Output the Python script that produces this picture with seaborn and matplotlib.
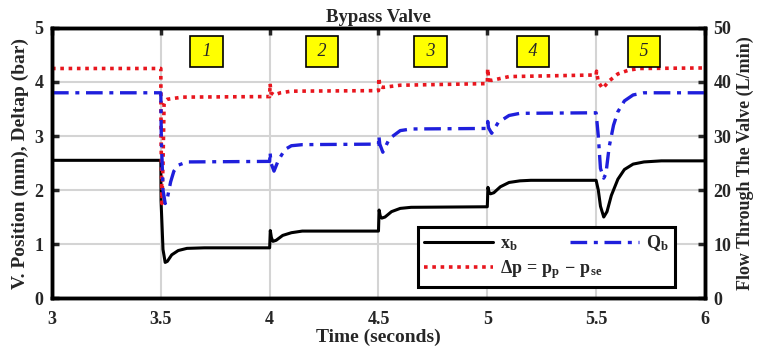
import matplotlib
matplotlib.use("Agg")
import matplotlib.pyplot as plt
import seaborn as sns
import pandas as pd

# ---- data ----
t_xb = [3.0, 3.5, 3.501, 3.51, 3.52, 3.53, 3.55, 3.58, 3.62, 3.7, 4.0, 4.003, 4.008,
        4.015, 4.03, 4.06, 4.1, 4.15, 4.5, 4.503, 4.508, 4.515, 4.53, 4.56, 4.6, 4.65,
        5.0, 5.003, 5.008, 5.015, 5.03, 5.06, 5.1, 5.15, 5.2, 5.5, 5.51, 5.52, 5.535,
        5.55, 5.57, 5.6, 5.63, 5.67, 5.72, 5.8, 6.0]
xb = [2.55, 2.55, 1.8, 0.9, 0.66, 0.68, 0.8, 0.88, 0.92, 0.93, 0.93, 1.25, 1.12,
      1.05, 1.07, 1.16, 1.21, 1.24, 1.24, 1.63, 1.52, 1.48, 1.5, 1.6, 1.66, 1.68,
      1.69, 2.05, 1.96, 1.93, 1.95, 2.06, 2.14, 2.17, 2.18, 2.18, 2.0, 1.7, 1.5,
      1.6, 1.9, 2.2, 2.38, 2.48, 2.52, 2.54, 2.54]

t_qb = [3.0, 3.5, 3.502, 3.51, 3.52, 3.53, 3.545, 3.56, 3.58, 3.62, 4.0, 4.002, 4.006,
        4.02, 4.04, 4.07, 4.1, 4.15, 4.5, 4.502, 4.506, 4.52, 4.55, 4.6, 4.65, 5.0,
        5.002, 5.006, 5.02, 5.05, 5.1, 5.15, 5.5, 5.51, 5.52, 5.535, 5.545, 5.56,
        5.58, 5.6, 5.63, 5.67, 5.72, 6.0]
qb = [38.0, 38.0, 30.0, 20.0, 17.5, 18.5, 21.5, 23.5, 24.6, 25.2, 25.3, 27.0, 25.0,
      23.5, 25.5, 27.5, 28.2, 28.4, 28.5, 30.0, 28.5, 27.0, 29.5, 31.0, 31.3, 31.4,
      32.7, 31.5, 30.5, 32.5, 33.8, 34.2, 34.3, 30.0, 24.0, 22.2, 23.0, 28.0,
      32.0, 34.5, 36.5, 37.6, 38.0, 38.0]

t_dp = [3.0, 3.5, 3.501, 3.505, 3.51, 3.515, 3.52, 3.53, 3.6, 4.0, 4.002, 4.006, 4.02,
        4.05, 4.1, 4.5, 4.502, 4.506, 4.52, 4.6, 5.0, 5.002, 5.006, 5.02, 5.1, 5.5,
        5.502, 5.51, 5.53, 5.56, 5.6, 5.65, 5.7, 6.0]
dp = [4.25, 4.25, 3.0, 1.75, 2.5, 3.6, 3.65, 3.68, 3.72, 3.73, 3.97, 3.8, 3.76,
      3.8, 3.83, 3.84, 4.08, 3.92, 3.9, 3.94, 3.97, 4.25, 4.04, 4.03, 4.1, 4.13,
      4.2, 4.0, 3.88, 4.02, 4.15, 4.22, 4.25, 4.26]

box_labels = ["1", "2", "3", "4", "5"]
box_t = [3.71, 4.24, 4.74, 5.21, 5.72]

sns.set_style("white")
plt.rcParams["font.family"] = ["Liberation Serif", "DejaVu Serif"]
plt.rcParams["font.weight"] = "bold"
plt.rcParams["mathtext.fontset"] = "custom"
plt.rcParams["mathtext.rm"] = "Liberation Serif:bold"
plt.rcParams["mathtext.it"] = "Liberation Serif:italic:bold"
plt.rcParams["mathtext.bf"] = "Liberation Serif:bold"

fig = plt.figure(figsize=(7.58, 3.54), dpi=100)
ax = fig.add_axes([0.0686, 0.158, 0.8614, 0.763])
ax2 = ax.twinx()

df_xb = pd.DataFrame({"t": t_xb, "v": xb})
df_qb = pd.DataFrame({"t": t_qb, "v": qb})
df_dp = pd.DataFrame({"t": t_dp, "v": dp})

sns.lineplot(data=df_xb, x="t", y="v", ax=ax, color="black", linewidth=2.2,
             label=r"$\mathrm{x_b}$", legend=False)
sns.lineplot(data=df_dp, x="t", y="v", ax=ax, color="#e8161e", linewidth=2.6,
             linestyle=(0, (1, 1.3)), label=r"$\mathrm{\Delta p\,=\,p_p\,-\,p_{se}}$",
             legend=False)
sns.lineplot(data=df_qb, x="t", y="v", ax=ax2, color="#1f1fdc", linewidth=2.4,
             linestyle=(0, (5, 2, 1.2, 2)), label=r"$\mathrm{Q_b}$", legend=False)

ax.set_xlim(3, 6)
ax.set_ylim(0, 5)
ax2.set_ylim(0, 50)
ax.set_xticks([3, 3.5, 4, 4.5, 5, 5.5, 6])
ax.set_xticklabels(["3", "3.5", "4", "4.5", "5", "5.5", "6"])
ax.set_yticks([0, 1, 2, 3, 4, 5])
ax2.set_yticks([0, 10, 20, 30, 40, 50])

ax.grid(True, color="#d4d4d4", linewidth=1.5)
ax.set_axisbelow(True)
ax2.grid(False)

for a in (ax, ax2):
    for s in a.spines.values():
        s.set_linewidth(2.5)
        s.set_color("black")
ax.tick_params(axis="x", direction="in", length=5, width=2.5, labelsize=13,
               top=True, pad=9)
ax.tick_params(axis="y", direction="in", length=5, width=2.5, labelsize=13,
               right=False, pad=6)
ax2.tick_params(axis="y", direction="in", length=5, width=2.5, labelsize=13, pad=6)
for lab in ax.get_xticklabels() + ax.get_yticklabels() + ax2.get_yticklabels():
    lab.set_fontweight("bold")

ax.set_xlabel("Time (seconds)", fontsize=14, fontweight="bold", labelpad=1)
ax.set_ylabel("V. Position (mm), Deltap (bar)", fontsize=14, fontweight="bold", labelpad=4)
ax2.set_ylabel("Flow Through The Valve (L/min)", fontsize=13, fontweight="bold", labelpad=4)
ax.set_title("Bypass Valve", fontsize=13.5, fontweight="bold", pad=4)

for lab, tx in zip(box_labels, box_t):
    ax.text(tx, 4.56, " " + lab + " ", fontsize=13, fontstyle="italic", fontweight="normal",
            ha="center", va="center",
            bbox=dict(boxstyle="square,pad=0.4", facecolor="#ffff00",
                      edgecolor="black", linewidth=1.2))

h1, l1 = ax.get_legend_handles_labels()
h2, l2 = ax2.get_legend_handles_labels()
leg = ax2.legend(h1 + h2, l1 + l2, ncol=2, loc="lower left",
                 bbox_to_anchor=(0.56, 0.04, 0.394, 0.24), mode="expand",
                 borderaxespad=0.0,
                 fancybox=False, framealpha=1, edgecolor="black", fontsize=13,
                 handlelength=3.8, borderpad=0.35, labelspacing=0.3, columnspacing=1.0,
                 handletextpad=0.4)
leg.get_frame().set_linewidth(2.2)

fig.savefig("out.png", dpi=100)
